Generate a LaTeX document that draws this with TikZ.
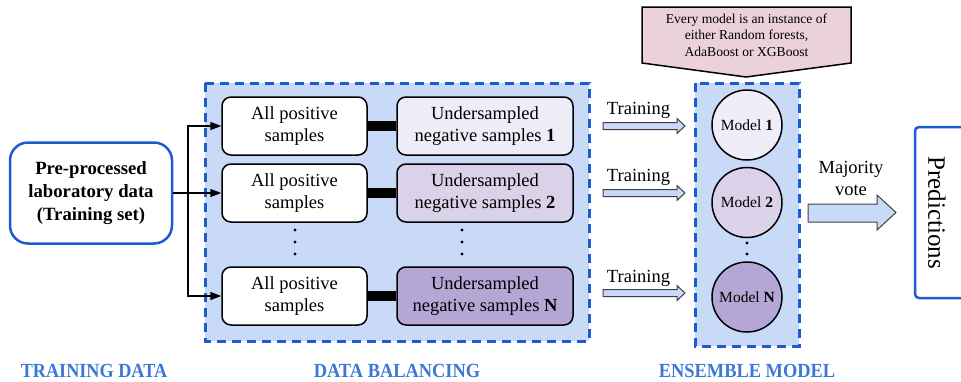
\documentclass[tikz,border=0pt]{standalone}
\usepackage{fontspec}
\setmainfont{Liberation Serif}
\usepackage{graphicx}
\usetikzlibrary{arrows.meta}
\definecolor{bdblue}{RGB}{28,92,210}
\definecolor{fillblue}{RGB}{201,218,248}
\definecolor{labblue}{RGB}{60,120,216}
\definecolor{pinkf}{RGB}{234,209,220}
\definecolor{purA}{RGB}{239,237,247}
\definecolor{purB}{RGB}{217,210,233}
\definecolor{purC}{RGB}{180,167,214}
\tikzset{
  sbox/.style={draw=black, line width=1.5pt, rounded corners=9pt, minimum height=58pt, align=center, font=\fontsize{18.5}{22}\selectfont, inner sep=0pt},
  posbox/.style={sbox, fill=white, minimum width=145pt},
  negbox/.style={sbox, minimum width=176pt},
  model/.style={circle, draw=black, line width=1.5pt, minimum size=70pt, inner sep=0pt, font=\fontsize{15.5}{18}\selectfont},
  dashbox/.style={draw=bdblue, fill=fillblue, line width=3pt, dash pattern=on 9pt off 6pt},
  barrow/.style={draw=black!75, fill=fillblue, line width=1pt, line join=miter},
  seclabel/.style={text=labblue, font=\fontsize{20}{24}\selectfont\bfseries, anchor=base},
  plain/.style={font=\fontsize{18.5}{22}\selectfont, align=center, inner sep=0pt},
  conn/.style={line width=1.5pt, -{Triangle[length=11pt,width=8pt]}},
  dotm/.style={fill=black, circle, inner sep=0pt, minimum size=3.4pt}
}
\begin{document}
\begin{tikzpicture}[x=1pt,y=-1pt]
\useasboundingbox (0,0) rectangle (961,381);

% dashed group boxes
\draw[dashbox] (205,83) rectangle (589,341);
\draw[dashbox] (695,83) rectangle (799,346);

% training data
\node[draw=bdblue, line width=2.5pt, rounded corners=18pt, minimum width=162pt, minimum height=101pt, align=center, inner sep=0pt,
      font=\fontsize{18.7}{23}\selectfont\bfseries] (src) at (91,193) {Pre-processed\\laboratory data\\(Training set)};

% data balancing rows
\node[posbox] (p1) at (294.5,126) {All positive\\samples};
\node[posbox] (p2) at (294.5,193) {All positive\\samples};
\node[posbox] (p3) at (294.5,296) {All positive\\samples};
\node[negbox, fill=purA] (n1) at (485,126) {Undersampled\\negative samples \textbf{1}};
\node[negbox, fill=purB] (n2) at (485,193) {Undersampled\\negative samples \textbf{2}};
\node[negbox, fill=purC] (n3) at (485,296) {Undersampled\\negative samples \textbf{N}};
\draw[line width=10pt] (p1.east) -- (n1.west);
\draw[line width=10pt] (p2.east) -- (n2.west);
\draw[line width=10pt] (p3.east) -- (n3.west);
\foreach \yy in {230,242,254} {
  \node[dotm] at (295,\yy) {};
  \node[dotm] at (462,\yy) {};
}

% connectors from source
\coordinate (split) at (188,193);
\draw[line width=2.2pt] (src.east) -- (split);
\draw[conn] (split) |- (p1.west);
\draw[conn] (split) -- (p2.west);
\draw[conn] (split) |- (p3.west);

% training arrows
\foreach \yy/\ly in {126/110, 193/177, 293/278} {
  \draw[barrow] (603,\yy-3.5) -- (677,\yy-3.5) -- (677,\yy-7.5) -- (685,\yy) -- (677,\yy+7.5) -- (677,\yy+3.5) -- (603,\yy+3.5) -- cycle;
  \node[plain] at (638.5,\ly) {Training};
}

% models
\node[model, fill=purA] (m1) at (747,125) {Model \textbf{1}};
\node[model, fill=purB] (m2) at (747,202.5) {Model \textbf{2}};
\node[model, fill=purC] (m3) at (747,297) {Model \textbf{N}};
\node[dotm] at (747,243) {};
\node[dotm] at (747,254) {};

% callout
\draw[fill=pinkf, line width=1.5pt, line join=miter] (642,7) -- (851,7) -- (851,63) -- (746,77) -- (642,63) -- cycle;
\node[align=center, inner sep=0pt, font=\fontsize{13.6}{16.5}\selectfont] (note) at (746.5,35) {Every model is an instance of\\either Random forests,\\AdaBoost or XGBoost};

% majority vote
\draw[barrow] (808,204) -- (877,204) -- (877,195) -- (896,212.5) -- (877,230) -- (877,222) -- (808,222) -- cycle;
\node[plain, baseline] (mv) at (851,178.5) {Majority\\vote};

% predictions
\node[rotate=-90, inner sep=0pt, font=\fontsize{25}{28}\selectfont] (pred) at (937,212.5) {Predictions};
\draw[bdblue, line width=2.5pt, rounded corners=4pt] (962,127) -- (915,127) -- (915,298) -- (962,298);

% section labels
\node[seclabel] (l1) at (94,377) {\scalebox{0.91}[1]{TRAINING DATA}};
\node[seclabel] (l2) at (397,377) {\scalebox{0.92}[1]{DATA BALANCING}};
\node[seclabel] (l3) at (747,377) {\scalebox{0.92}[1]{ENSEMBLE MODEL}};
\end{tikzpicture}
\end{document}
